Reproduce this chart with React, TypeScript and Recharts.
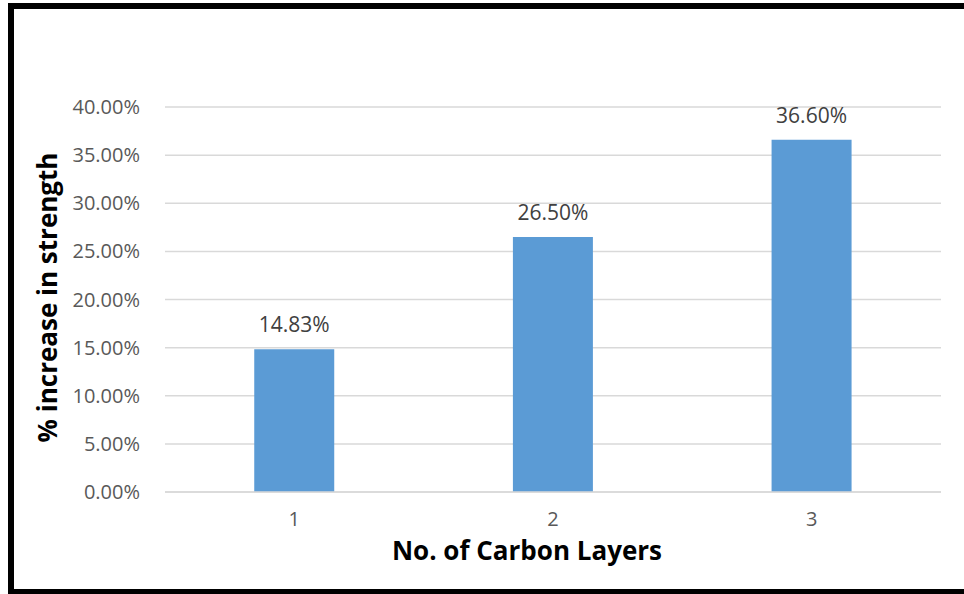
import React from "react";
import { BarChart, Bar, XAxis, YAxis, CartesianGrid, LabelList, Label } from "recharts";

const categories = ["1", "2", "3"];
const increases = [0.1483, 0.265, 0.366];
const yTicks = [0, 0.05, 0.1, 0.15, 0.2, 0.25, 0.3, 0.35, 0.4];

const data = categories.map((c, i) => ({ layer: c, value: increases[i] }));
const FONT = "'Open Sans', 'Noto Sans', sans-serif";
const pct = (v: number) => (v * 100).toFixed(2) + "%";

const YTitle = (props: any) => {
  const vb = props.viewBox;
  const cx = 47;
  const cy = vb.y + vb.height / 2 - 2;
  return (
    <text
      x={cx}
      y={cy}
      transform={`rotate(-90, ${cx}, ${cy})`}
      textAnchor="middle"
      dominantBaseline="central"
      fontFamily={FONT}
      fontWeight="bold"
      fontSize={26}
      fill="#000"
    >
      % increase in strength
    </text>
  );
};

const XTitle = (props: any) => {
  const vb = props.viewBox;
  const cx = 527;
  const cy = vb.y + 58;
  return (
    <text
      x={cx}
      y={cy}
      textAnchor="middle"
      dominantBaseline="central"
      fontFamily={FONT}
      fontWeight="bold"
      fontSize={26}
      fill="#000"
    >
      No. of Carbon Layers
    </text>
  );
};

export default function App() {
  return (
    <div style={{ position: "absolute", left: 0, top: 0, width: 964, height: 594, background: "#fff", overflow: "hidden" }}>
      <div
        style={{
          position: "absolute",
          left: 8,
          top: 3,
          width: 970,
          height: 592,
          border: "6px solid #000",
          boxSizing: "border-box",
        }}
      />
      <div style={{ position: "absolute", left: 0, top: 0 }}>
        <BarChart
          width={964}
          height={594}
          data={data}
          margin={{ top: 107, right: 23, bottom: 32, left: 0 }}
          barCategoryGap="34.5%"
        >
          <CartesianGrid vertical={false} stroke="#d9d9d9" strokeWidth={1.5} />
          <XAxis
            dataKey="layer"
            height={70}
            axisLine={{ stroke: "#d9d9d9", strokeWidth: 1.5 }}
            tickLine={false}
            tickSize={0}
            tickMargin={20}
            tick={{ fill: "#595959", fontSize: 20, fontFamily: FONT }}
          >
            <Label content={<XTitle />} />
          </XAxis>
          <YAxis
            width={165}
            domain={[0, 0.4]}
            ticks={yTicks}
            tickFormatter={pct}
            axisLine={false}
            tickLine={false}
            tickSize={0}
            tickMargin={25}
            tick={{ fill: "#595959", fontSize: 20, fontFamily: FONT }}
          >
            <Label content={<YTitle />} />
          </YAxis>
          <Bar dataKey="value" fill="#5b9bd5" isAnimationActive={false}>
            <LabelList
              dataKey="value"
              position="top"
              offset={17}
              formatter={(v: any) => pct(Number(v))}
              style={{ fill: "#404040", fontSize: 21, fontFamily: FONT }}
            />
          </Bar>
        </BarChart>
      </div>
    </div>
  );
}
